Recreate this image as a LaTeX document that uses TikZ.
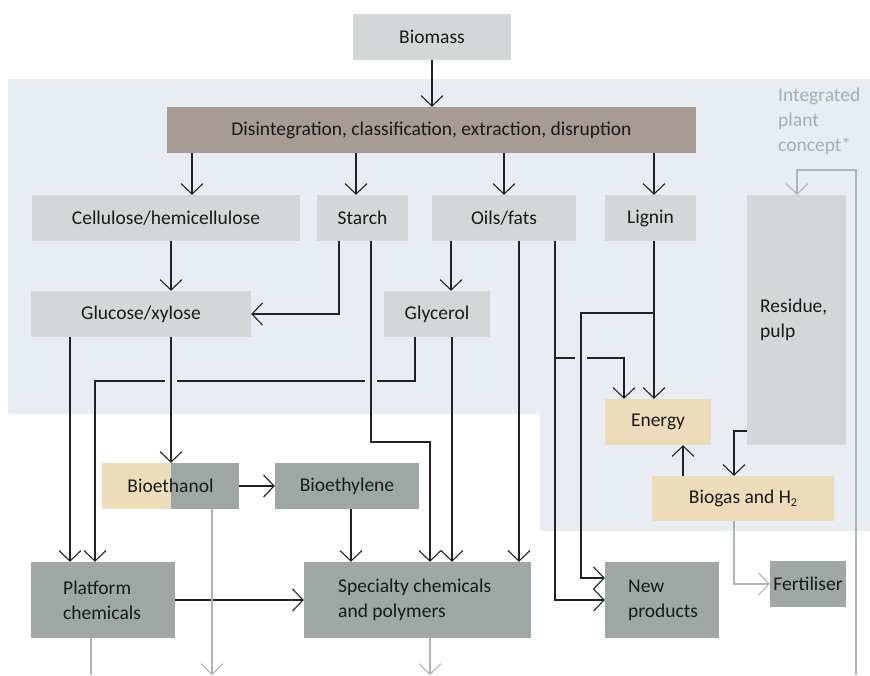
\documentclass[tikz,border=0pt]{standalone}
\usepackage{fontspec}
\setmainfont{Carlito}
\usetikzlibrary{arrows.meta,calc}
\definecolor{bgblue}{HTML}{E7EDF3}
\definecolor{lgray}{HTML}{D4D7D8}
\definecolor{brownbox}{HTML}{A89B94}
\definecolor{tanbox}{HTML}{ECDCB9}
\definecolor{dgray}{HTML}{9DA8A5}
\definecolor{gline}{HTML}{AEB5B5}
\definecolor{gtext}{HTML}{A8AFAF}
\definecolor{linec}{HTML}{222222}
\definecolor{txtc}{HTML}{1A1A1A}
\tikzset{
  box/.style={rectangle, inner sep=0pt, text=txtc, font=\fontsize{19.5}{25}\selectfont, minimum height=46pt},
  lbox/.style={box, fill=lgray},
  bbox/.style={box, fill=brownbox},
  tbox/.style={box, fill=tanbox},
  dbox/.style={box, fill=dgray},
  boxtxt/.style={inner sep=0pt, text=txtc, font=\fontsize{19.5}{25}\selectfont, align=left},
  arr/.style={draw=linec, line width=1.1pt, -{Straight Barb[length=10.5pt,width=22pt]}},
  conn/.style={draw=linec, line width=1.1pt},
  garr/.style={draw=gline, line width=1.1pt, -{Straight Barb[length=10.5pt,width=22pt]}},
  gconn/.style={draw=gline, line width=1.1pt},
  gap/.style={draw=bgblue, line width=3pt},
}
\begin{document}
\begin{tikzpicture}[x=1pt,y=-1pt]
\useasboundingbox (0,0) rectangle (870,675);
% background panel
\fill[bgblue] (8,79) -- (870,79) -- (870,531) -- (540,531) -- (540,414) -- (8,414) -- cycle;

% lanes
\foreach \x in {70,91,95,171,192,212,339,351,356,371,415,430,451,452,519,555,581,624,654,683,734,797,856}
  \coordinate (c\x) at (\x,0);
\foreach \y in {170,313,358,381,431,442,578,675}
  \coordinate (r\y) at (0,\y);

% nodes
\node[lbox, minimum width=158pt] (bio) at (432,37) {Biomass};
\node[bbox, minimum width=529pt] (dis) at (431.5,130) {Disintegration, classification, extraction, disruption};
\node[lbox, minimum width=268pt] (cell) at (166,218) {Cellulose/hemicellulose};
\node[lbox, minimum width=91pt] (starch) at (362.5,218) {Starch};
\node[lbox, minimum width=144pt] (oils) at (504,218) {Oils/fats};
\node[lbox, minimum width=91pt] (lignin) at (650.5,218) {Lignin};
\node[lbox, minimum width=99pt, minimum height=250pt] (residue) at (796.5,320) {};
\node[boxtxt, anchor=north west] (residuetxt) at (760,299) {Residue,\\pulp};
\node[lbox, minimum width=220pt] (gluc) at (141,314) {Glucose/xylose};
\node[lbox, minimum width=106pt] (glyc) at (437,314) {Glycerol};
\node[tbox, minimum width=106pt] (energy) at (658,422) {Energy};
\node[dbox, minimum width=137pt,
  path picture={\fill[tanbox] (path picture bounding box.north west) rectangle (path picture bounding box.south);}] (bioeth) at (170.5,486) {Bioethanol};
\node[dbox, minimum width=144pt] (bioethyl) at (347,486) {Bioethylene};
\node[tbox, minimum width=182pt, minimum height=45pt] (biogas) at (743,498.5) {Biogas and H{\fontsize{12}{12}\selectfont\raisebox{-0.25em}{2}}};
\node[dbox, minimum width=144pt, minimum height=76pt] (plat) at (103,600) {};
\node[boxtxt, anchor=west] (plattxt) at (63,600) {Platform\\chemicals};
\node[dbox, minimum width=227pt, minimum height=76pt] (spec) at (417.5,600) {};
\node[boxtxt, anchor=west] (spectxt) at (338,600) {Specialty chemicals\\and polymers};
\node[dbox, minimum width=114pt, minimum height=76pt] (newp) at (662,600) {};
\node[boxtxt, anchor=west] (newptxt) at (628,600) {New\\products};
\node[dbox, minimum width=76pt] (fert) at (808,584) {Fertiliser};
\node[boxtxt, anchor=north west, text=gtext] (ipc) at (778,88) {Integrated\\plant\\concept*};

% connectors
\draw[arr] (bio.south) -- (bio.south |- dis.north);
\draw[arr] (dis.south -| c192) -- (cell.north -| c192);
\draw[arr] (dis.south -| c356) -- (starch.north -| c356);
\draw[arr] (dis.south -| oils.north) -- (oils.north);
\draw[arr] (dis.south -| c654) -- (lignin.north -| c654);
\draw[arr] (cell.south -| c171) -- (gluc.north -| c171);
\draw[arr] (starch.south -| c339) |- (gluc.east);
\draw[arr] (oils.south -| c451) -- (glyc.north -| c451);

% glycerol -> platform (with crossing gaps)
\draw[arr] (glyc.south -| c415) |- (c95 |- r381) -- (plat.north -| c95);
\draw[gap] (165,381) -- (177,381);
\draw[gap] (365,381) -- (377,381);
% oils -> energy (with crossing gap)
\draw[arr] (c555 |- r358) -| (energy.north -| c624);
\draw[gap] (575,358) -- (587,358);

\draw[arr] (starch.south -| c371) -- (c371 |- r442) -| (spec.north -| c430);
\draw[arr] (oils.south -| c519) -- (spec.north -| c519);
\draw[arr] (oils.south -| c555) |- (newp.west);
\draw[arr] (lignin.south -| c654) -- (energy.north -| c654);
\draw[arr] (c654 |- r313) -| (c581 |- r578) -- (newp.west |- r578);
\draw[arr] (glyc.south -| c452) -- (spec.north -| c452);
\draw[arr] (gluc.south -| c70) -- (plat.north -| c70);
\draw[arr] (gluc.south -| c171) -- (bioeth.north -| c171);
\draw[arr] (bioeth.east) -- (bioethyl.west);
\draw[arr] (bioethyl.south -| c351) -- (spec.north -| c351);
\draw[arr] (plat.east) -- (spec.west);
\draw[arr] (biogas.north -| c683) -- (energy.south -| c683);
\draw[arr] (residue.west |- r431) -| (biogas.north -| c734);

% grey connectors
\draw[garr] (biogas.south -| c734) |- (fert.west);
\draw[garr] (bioeth.south -| c212) -- (c212 |- r675);
\draw[gconn] (plat.south -| c91) -- (c91 |- r675);
\draw[garr] (spec.south -| c430) -- (c430 |- r675);
\draw[garr] (c856 |- r675) |- (c797 |- r170) -- (residue.north -| c797);
\end{tikzpicture}
\end{document}
